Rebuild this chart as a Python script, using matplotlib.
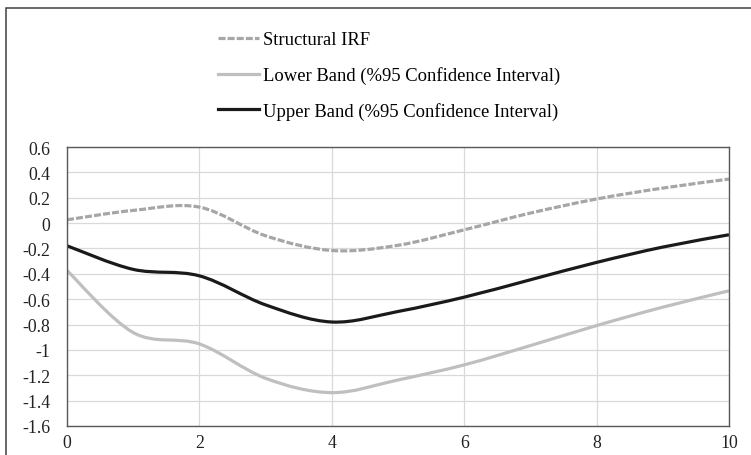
import numpy as np
import matplotlib.pyplot as plt
from matplotlib.path import Path
from matplotlib.patches import PathPatch, Rectangle
from matplotlib.lines import Line2D
from matplotlib.ticker import FuncFormatter

# Valores (periodos 0..10)
periods = [0, 1, 2, 3, 4, 5, 6, 7, 8, 9, 10]
irf = [0.026, 0.10, 0.126, -0.10, -0.216, -0.175, -0.053, 0.079, 0.19, 0.276, 0.347]
lower = [-0.374, -0.863, -0.953, -1.224, -1.337, -1.237, -1.118, -0.966, -0.808, -0.663, -0.534]
upper = [-0.179, -0.365, -0.416, -0.645, -0.78, -0.697, -0.584, -0.447, -0.31, -0.189, -0.092]

labels = ['Structural IRF',
          'Lower Band (%95 Confidence Interval)',
          'Upper Band (%95 Confidence Interval)']
colors = ['#a6a6a6', '#bfbfbf', '#1a1a1a']
styles = [(0, (2.2, 0.65)), '-', '-']

plt.rcParams['font.family'] = ['Liberation Serif', 'DejaVu Serif']


def smooth_path(x, y):
    # curva tipo Excel "linea suavizada" (Bezier por los puntos)
    pts = np.column_stack([x, y]).astype(float)
    ext = np.vstack([pts[0], pts, pts[-1]])
    verts = [pts[0]]
    codes = [Path.MOVETO]
    for i in range(len(pts) - 1):
        p0, p1, p2, p3 = ext[i], ext[i + 1], ext[i + 2], ext[i + 3]
        verts += [p1 + (p2 - p0) / 6, p2 - (p3 - p1) / 6, p2]
        codes += [Path.CURVE4] * 3
    return Path(verts, codes)


fig = plt.figure(figsize=(7.51, 4.56), dpi=100)
ax = fig.add_axes([67 / 751, 29 / 456, 662 / 751, 279 / 456])

for serie, c, ls in zip([irf, lower, upper], colors, styles):
    ax.add_patch(PathPatch(smooth_path(periods, serie), facecolor='none',
                           edgecolor=c, lw=2.3, linestyle=ls, capstyle='butt'))

ax.set_xlim(0, 10)
ax.set_ylim(-1.6, 0.6)
ax.set_xticks(range(0, 11, 2))
ax.set_yticks(np.arange(-1.6, 0.61, 0.2))
ax.yaxis.set_major_formatter(FuncFormatter(lambda v, p: '%g' % (round(v, 1) + 0.0)))
ax.grid(True, color='#d9d9d9', lw=0.9)
ax.set_axisbelow(True)
ax.tick_params(length=0, labelsize=12.8, colors='#222222')
ax.tick_params(axis='y', pad=12)
ax.tick_params(axis='x', pad=6)
for s in ax.spines.values():
    s.set_color('#595959')
    s.set_linewidth(1.0)

handles = [Line2D([], [], color=c, lw=2.3, linestyle=ls, dash_capstyle='butt')
           for c, ls in zip(colors, styles)]
fig.legend(handles, labels, loc='upper left', bbox_to_anchor=(211 / 751, 1 - 25 / 456),
           frameon=False, fontsize=13.4, handlelength=2.2, handletextpad=0.18,
           labelspacing=0.95, borderaxespad=0)

# marco exterior
fig.add_artist(Rectangle((6 / 751, -0.5), 2, 1.5 - 8.5 / 456, transform=fig.transFigure,
                         fill=False, edgecolor='#404040', lw=1.1))

plt.savefig('out.png', dpi=100)
